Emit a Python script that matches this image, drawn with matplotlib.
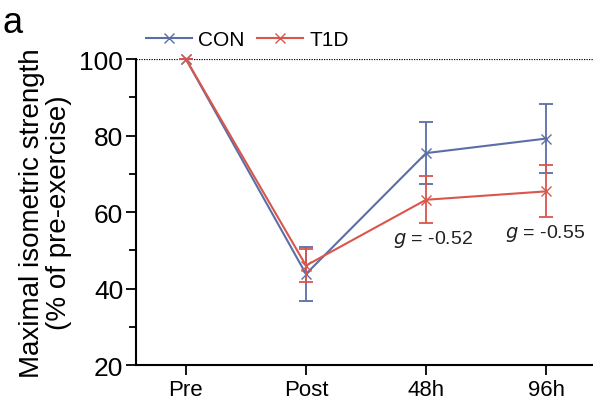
import matplotlib
matplotlib.use('Agg')
import matplotlib.pyplot as plt
from matplotlib.ticker import MultipleLocator

plt.rcParams['font.family'] = ['Liberation Sans', 'DejaVu Sans']

# 数据
timepoints = ['Pre', 'Post', '48h', '96h']
con_mean = [100, 43.8, 75.4, 79.2]
con_err = [0, 7.0, 8.2, 9.0]
t1d_mean = [100, 46.0, 63.2, 65.4]
t1d_err = [0, 4.2, 6.1, 6.8]
g_labels = ['', '', 'g = -0.52', 'g = -0.55']

con_color = '#5b6ea6'
t1d_color = '#d9564c'

fig = plt.figure(figsize=(5.93, 4.06), dpi=100)
ax = fig.add_axes([0.229, 0.0985, 0.771, 0.7537])

x = list(range(len(timepoints)))

ax.axhline(100, color='black', linestyle=(0, (1, 1)), linewidth=0.9, zorder=1)

ax.errorbar(x, con_mean, yerr=con_err, color=con_color, marker='x', markersize=7,
            linewidth=1.5, capsize=5, elinewidth=1.3, capthick=1.3, label='CON',
            clip_on=False, zorder=3)
ax.errorbar(x, t1d_mean, yerr=t1d_err, color=t1d_color, marker='x', markersize=7,
            linewidth=1.5, capsize=5, elinewidth=1.3, capthick=1.3, label='T1D',
            clip_on=False, zorder=4)

# 效应量标注（水平微调）
g_shift = [0, 0, 0.06, -0.01]
for i, lab in enumerate(g_labels):
    if lab:
        ax.text(i + g_shift[i], t1d_mean[i] - t1d_err[i] - 1.3, r'$g$' + lab[1:],
                ha='center', va='top', fontsize=14, color='#222222')

ax.set_xlim(-0.417, 3.39)
ax.set_ylim(20, 100)
ax.set_xticks(x)
ax.set_xticklabels(timepoints, fontsize=16)
ax.yaxis.set_major_locator(MultipleLocator(20))
ax.yaxis.set_minor_locator(MultipleLocator(10))
ax.tick_params(axis='y', which='major', labelsize=19, length=7, width=1.3, pad=2)
ax.tick_params(axis='y', which='minor', length=5, width=1.3)
ax.tick_params(axis='x', length=7, width=1.3, pad=3)

for side in ['top', 'right']:
    ax.spines[side].set_visible(False)
for side in ['left', 'bottom']:
    ax.spines[side].set_linewidth(1.5)

ax.set_ylabel('Maximal isometric strength\n(% of pre-exercise)', fontsize=20,
              linespacing=1.05, labelpad=5)

handles, labels = ax.get_legend_handles_labels()
handles = [h[0] for h in handles]
fig.legend(handles, labels, loc='center left', bbox_to_anchor=(0.232, 0.9),
           ncol=2, frameon=False, fontsize=15, handlelength=2.2,
           handletextpad=0.3, columnspacing=0.6, borderaxespad=0)

fig.text(0.005, 0.985, 'a', fontsize=26, ha='left', va='top')

fig.savefig('out.png', dpi=100)
